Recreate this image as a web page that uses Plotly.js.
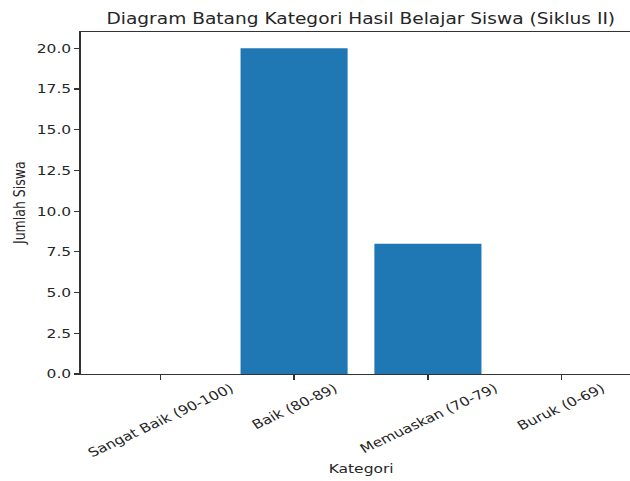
<!DOCTYPE html>
<html>
<head>
<meta charset="utf-8">
<script src="https://cdn.plot.ly/plotly-3.0.1.min.js"></script>
<style>
html,body{margin:0;padding:0;background:#fff;overflow:hidden;}
#chart{width:508px;height:481px;transform:scaleX(1.2402);transform-origin:0 0;}
</style>
</head>
<body>
<div id="chart"></div>
<script>
var categories = ["Sangat Baik (90-100)", "Baik (80-89)", "Memuaskan (70-79)", "Buruk (0-69)"];
var jumlahSiswa = [0, 20, 8, 0];
var yTicks = [0, 2.5, 5, 7.5, 10, 12.5, 15, 17.5, 20];
var chartTitle = "Diagram Batang Kategori Hasil Belajar Siswa (Siklus II)";
var xTitle = "Kategori";
var yTitle = "Jumlah Siswa";

var FONT = "DejaVu Sans, sans-serif";
var TEXT = '#262626';
var xIdx = categories.map(function(_, i){ return i; });

var annotations = categories.map(function(c, i){
  return {
    text: c, x: i, xref: 'x', y: 0, yref: 'paper', yshift: -4,
    xanchor: 'center', yanchor: 'top', textangle: -30, showarrow: false,
    font: {family: FONT, size: 12.5, color: TEXT}
  };
});
annotations.push({
  text: xTitle, x: 0.51, xref: 'paper', y: 0, yref: 'paper', yshift: -94,
  xanchor: 'center', yanchor: 'middle', showarrow: false,
  font: {family: FONT, size: 12.5, color: TEXT}
});
annotations.push({
  text: yTitle, x: 0, xref: 'paper', y: 0.5, yref: 'paper', xshift: -50,
  xanchor: 'center', yanchor: 'middle', textangle: -90, showarrow: false,
  font: {family: FONT, size: 12.5, color: TEXT}
});

var trace = {
  type: 'bar', x: xIdx, y: jumlahSiswa,
  marker: {color: '#1f77b4', line: {width: 0}},
  hoverinfo: 'x+y'
};

var layout = {
  width: 508, height: 481,
  margin: {l: 65.3, r: 0, t: 32, b: 107, pad: 0},
  paper_bgcolor: '#fff', plot_bgcolor: '#fff',
  bargap: 0.2,
  showlegend: false,
  title: {
    text: chartTitle, x: 0.51, xref: 'paper', xanchor: 'center',
    y: 1 - 18.5/481, yref: 'container', yanchor: 'middle',
    font: {family: FONT, size: 15, color: TEXT}
  },
  xaxis: {
    range: [-0.595, 3.51], tickvals: xIdx, showticklabels: false,
    ticks: 'outside', ticklen: 4.5, tickwidth: 1.1, tickcolor: '#333',
    showline: true, linecolor: '#333', linewidth: 1.1, mirror: true,
    showgrid: false, zeroline: false
  },
  yaxis: {
    range: [0, 21], tickvals: yTicks, tickformat: '.1f',
    ticks: 'outside', ticklen: 4, tickwidth: 1.1, tickcolor: '#333',
    showline: true, linecolor: '#333', linewidth: 1.1,
    showgrid: false, zeroline: false,
    tickfont: {family: FONT, size: 12.5, color: TEXT}
  },
  annotations: annotations
};

Plotly.newPlot('chart', [trace], layout, {displayModeBar: false, staticPlot: true});
</script>
</body>
</html>
